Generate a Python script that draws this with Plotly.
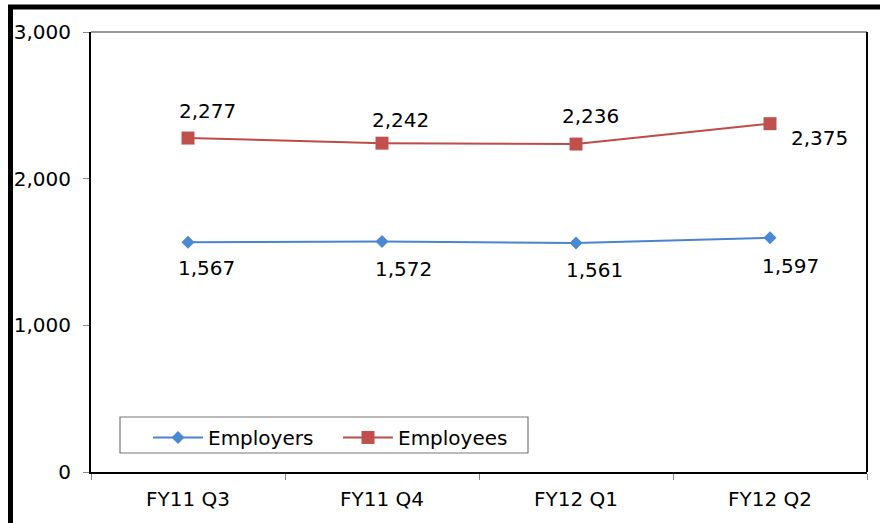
import plotly.graph_objects as go

categories = ["FY11 Q3", "FY11 Q4", "FY12 Q1", "FY12 Q2"]
employers = [1567, 1572, 1561, 1597]
employees = [2277, 2242, 2236, 2375]
y_ticks = [0, 1000, 2000, 3000]

# label offsets (style, in px)
emp_r_dx = [18, 21, 18, 20]
emp_r_dy = [-26, -28, -27, -28]
emp_e_dx = [19, 18, 14, 49]
emp_e_dy = [27, 23, 28, -14]

FONT = "DejaVu Sans, Verdana, sans-serif"
FS = 20

def fmt(v):
    return f"{v:,}"

fig = go.Figure()
fig.add_trace(go.Scatter(
    x=categories, y=employers, name="Employers",
    mode="lines+markers",
    line=dict(color="#4A84CC", width=2),
    marker=dict(symbol="diamond", size=10, color="#4A88D4"),
))
fig.add_trace(go.Scatter(
    x=categories, y=employees, name="Employees",
    mode="lines+markers",
    line=dict(color="#BE4B48", width=2),
    marker=dict(symbol="square", size=13, color="#C0504D"),
))

annotations = []
for c, v, dx, dy in zip(categories, employers, emp_r_dx, emp_r_dy):
    annotations.append(dict(x=c, y=v, xref="x", yref="y", text=fmt(v), showarrow=False,
                            xshift=dx, yshift=dy, font=dict(family=FONT, size=FS, color="black")))
for c, v, dx, dy in zip(categories, employees, emp_e_dx, emp_e_dy):
    annotations.append(dict(x=c, y=v, xref="x", yref="y", text=fmt(v), showarrow=False,
                            xshift=dx, yshift=dy, font=dict(family=FONT, size=FS, color="black")))

L, R, T, B = 91, 13, 32, 51
W, H = 880, 523
pw, ph = W - L - R, H - T - B

def px_x(px):
    return (px - L) / pw

def px_y(py):
    return (H - B - py) / ph

fig.update_layout(
    width=W, height=H,
    margin=dict(l=L, r=R, t=T, b=B),
    paper_bgcolor="white", plot_bgcolor="white",
    font=dict(family=FONT, size=FS, color="black"),
    showlegend=True,
    annotations=annotations,
    legend=dict(
        orientation="h",
        x=px_x(148), y=px_y(418), xanchor="left", yanchor="top",
        borderwidth=0, bgcolor="rgba(0,0,0,0)",
        font=dict(family=FONT, size=FS, color="black"),
        itemwidth=50,
        entrywidth=125, entrywidthmode="pixels",
    ),
    xaxis=dict(
        type="category", range=[-0.5, 3.5],
        showline=True, linecolor="black", linewidth=2,
        ticks="outside", tickson="boundaries", ticklen=6, tickcolor="#888888",
        ticklabelstandoff=8,
        showgrid=False, zeroline=False,
        tickfont=dict(family=FONT, size=FS, color="black"),
    ),
    yaxis=dict(
        range=[0, 3000], tickvals=y_ticks, tickformat=",",
        showline=True, linecolor="black", linewidth=2,
        ticks="outside", ticklen=6, tickcolor="#888888",
        ticklabelstandoff=8,
        showgrid=False, zeroline=False,
        tickfont=dict(family=FONT, size=FS, color="black"),
    ),
    shapes=[
        dict(type="line", xref="paper", yref="paper", x0=0, x1=1, y0=1, y1=1,
             line=dict(color="#777777", width=1.5)),
        dict(type="line", xref="paper", yref="paper", x0=1, x1=1, y0=0, y1=1,
             line=dict(color="black", width=2)),
        dict(type="rect", xref="paper", yref="paper",
             x0=px_x(120), x1=px_x(528), y0=px_y(453), y1=px_y(417),
             line=dict(color="#777777", width=1.2), fillcolor="white", layer="below"),
        dict(type="line", xref="paper", yref="paper",
             x0=px_x(10.5), x1=px_x(10.5), y0=px_y(5), y1=px_y(530),
             line=dict(color="black", width=5)),
        dict(type="line", xref="paper", yref="paper",
             x0=px_x(8), x1=px_x(885), y0=px_y(7), y1=px_y(7),
             line=dict(color="black", width=5)),
    ],
)

fig.write_html(
    "out.html",
    config={"displayModeBar": False},
    post_script="document.body.style.margin='0';document.body.style.overflow='hidden';",
)
